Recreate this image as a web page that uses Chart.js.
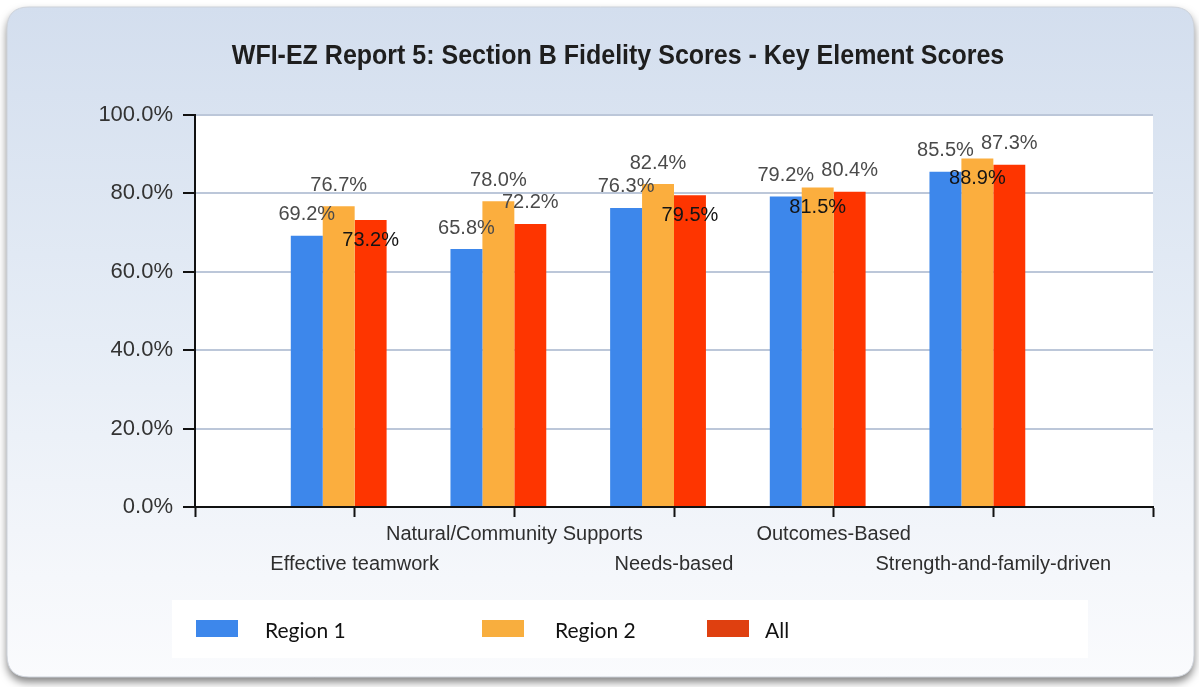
<!DOCTYPE html>
<html lang="en">
<head>
<meta charset="utf-8">
<title>WFI-EZ Report 5: Section B Fidelity Scores - Key Element Scores</title>
<script src="https://cdn.jsdelivr.net/npm/chart.js@4.4.1/dist/chart.umd.min.js"></script>
<style>
  html, body { margin: 0; padding: 0; background: #ffffff; }
  .chart-wrap { width: 1199px; height: 687px; }
</style>
</head>
<body>
<div class="chart-wrap"><canvas id="fidelity-chart" width="1199" height="687"></canvas></div>
<script>
const chartTitle = 'WFI-EZ Report 5: Section B Fidelity Scores - Key Element Scores';
const categories = [
  'Effective teamwork',
  'Natural/Community Supports',
  'Needs-based',
  'Outcomes-Based',
  'Strength-and-family-driven',
];
const seriesNames = ['Region 1', 'Region 2', 'All'];
const region1 = [69.2, 65.8, 76.3, 79.2, 85.5];
const region2 = [76.7, 78.0, 82.4, 81.5, 88.9];
const allRegions = [73.2, 72.2, 79.5, 80.4, 87.3];
const yTicks = [0, 20, 40, 60, 80, 100];

const barColors = ['#3d87eb', '#fbae3e', '#fe3500'];
const legendColors = ['#3d87eb', '#f8ae3e', '#df4010'];
const fontFamily = '"Liberation Sans", Arial, sans-serif';

// labels alternate between two rows, with an empty slot at each end of the axis
const axisLabels = [''].concat(
  categories.map((name, i) => (i % 2 === 0 ? ['', name] : [name, ''])),
  ['']
);
const padSeries = (values) => [null].concat(values, [null]);

const roundRect = (ctx, x, y, w, h, r) => {
  ctx.beginPath();
  ctx.moveTo(x + r, y);
  ctx.lineTo(x + w - r, y);
  ctx.quadraticCurveTo(x + w, y, x + w, y + r);
  ctx.lineTo(x + w, y + h - r);
  ctx.quadraticCurveTo(x + w, y + h, x + w - r, y + h);
  ctx.lineTo(x + r, y + h);
  ctx.quadraticCurveTo(x, y + h, x, y + h - r);
  ctx.lineTo(x, y + r);
  ctx.quadraticCurveTo(x, y, x + r, y);
  ctx.closePath();
};

const panelPlugin = {
  id: 'panel',
  beforeDraw(chart) {
    const { ctx, chartArea } = chart;
    ctx.save();

    // outer panel with drop shadow
    ctx.shadowColor = 'rgba(0, 0, 0, 0.5)';
    ctx.shadowBlur = 8;
    ctx.shadowOffsetY = 5;
    const grad = ctx.createLinearGradient(0, 6, 0, 678);
    grad.addColorStop(0, '#d3deee');
    grad.addColorStop(0.5, '#e6edf6');
    grad.addColorStop(0.85, '#f5f7fb');
    grad.addColorStop(1, '#fafbfd');
    ctx.fillStyle = grad;
    roundRect(ctx, 7, 7, 1187, 670, 22);
    ctx.fill();
    ctx.shadowColor = 'transparent';
    ctx.strokeStyle = '#cdd2da';
    ctx.lineWidth = 1;
    ctx.stroke();

    // title, drawn a little taller than wide like the original
    ctx.save();
    ctx.translate(618, 56);
    ctx.scale(1, 1.12);
    ctx.fillStyle = '#1e1e1e';
    ctx.font = 'bold 25px ' + fontFamily;
    ctx.textAlign = 'center';
    ctx.textBaseline = 'middle';
    ctx.fillText(chartTitle, 0, 0, 790);
    ctx.restore();

    // plot background
    ctx.fillStyle = '#ffffff';
    ctx.fillRect(chartArea.left, chartArea.top, chartArea.right - chartArea.left, chartArea.bottom - chartArea.top);

    // legend strip
    ctx.fillStyle = '#ffffff';
    ctx.fillRect(172, 600, 916, 58);
    ctx.restore();
  },
  afterDraw(chart) {
    const { ctx } = chart;
    const slots = [
      { swatch: 196, text: 265 },
      { swatch: 482, text: 555 },
      { swatch: 707, text: 765 },
    ];
    ctx.save();
    ctx.font = '21px Lato, "Open Sans", sans-serif';
    ctx.textBaseline = 'middle';
    ctx.textAlign = 'left';
    seriesNames.forEach((name, i) => {
      ctx.fillStyle = legendColors[i];
      ctx.fillRect(slots[i].swatch, 620, 42, 17);
      ctx.fillStyle = '#111111';
      ctx.fillText(name, slots[i].text, 631);
    });
    ctx.restore();
  },
};

// value labels sit above each bar; one that would collide with a neighbour goes inside its bar
const valueLabelPlugin = {
  id: 'valueLabels',
  afterDatasetsDraw(chart) {
    const { ctx } = chart;
    ctx.save();
    ctx.font = '20px ' + fontFamily;
    ctx.textAlign = 'center';
    ctx.textBaseline = 'middle';
    const textHeight = 16;

    chart.data.labels.forEach((_, i) => {
      const placed = [];
      chart.data.datasets.forEach((ds, d) => {
        const value = ds.data[i];
        if (value === null || value === undefined) return;
        const bar = chart.getDatasetMeta(d).data[i];
        const text = value.toFixed(1) + '%';
        const w = ctx.measureText(text).width;
        let y = bar.y - 21;
        const box = { l: bar.x - w / 2, r: bar.x + w / 2, t: y - textHeight / 2, b: y + textHeight / 2 };
        const hit = placed.some((p) => box.l < p.r && box.r > p.l && box.t < p.b && box.b > p.t);
        if (hit) {
          y = bar.y + 20;
          ctx.fillStyle = '#141414';
        } else {
          placed.push(box);
          ctx.fillStyle = '#4a4a4a';
        }
        ctx.fillText(text, bar.x, y);
      });
    });
    ctx.restore();
  },
};

const canvas = document.querySelector('#fidelity-chart');

new Chart(canvas, {
  type: 'bar',
  data: {
    labels: axisLabels,
    datasets: [
      { label: seriesNames[0], data: padSeries(region1), backgroundColor: barColors[0] },
      { label: seriesNames[1], data: padSeries(region2), backgroundColor: barColors[1] },
      { label: seriesNames[2], data: padSeries(allRegions), backgroundColor: barColors[2] },
      // empty fourth slot keeps the group offset to the left of each tick
      { label: '', data: [], backgroundColor: 'transparent' },
    ],
  },
  options: {
    responsive: false,
    devicePixelRatio: 1,
    animation: false,
    layout: { padding: { left: 20, right: 46, top: 115, bottom: 100 } },
    datasets: {
      bar: { categoryPercentage: 0.8, barPercentage: 1.0 },
    },
    plugins: {
      legend: { display: false },
      title: { display: false },
      tooltip: { enabled: false },
    },
    scales: {
      x: {
        offset: false,
        afterFit: (scale) => { scale.height = 80; },
        grid: {
          offset: false,
          drawOnChartArea: false,
          drawTicks: true,
          tickLength: 10,
          tickColor: '#111111',
          tickWidth: 2,
        },
        border: { display: true, color: '#111111', width: 2 },
        ticks: {
          autoSkip: false,
          maxRotation: 0,
          minRotation: 0,
          padding: 2,
          color: '#2e2e2e',
          font: { family: fontFamily, size: 20, lineHeight: 1.5 },
        },
      },
      y: {
        min: 0,
        max: 100,
        afterFit: (scale) => { scale.width = 175; },
        afterBuildTicks: (scale) => { scale.ticks = yTicks.map((v) => ({ value: v })); },
        grid: {
          color: '#bcc7d9',
          lineWidth: 2,
          drawTicks: true,
          tickLength: 12,
          tickColor: '#111111',
          tickWidth: 2,
        },
        border: { display: true, color: '#111111', width: 2 },
        ticks: {
          padding: 10,
          color: '#333333',
          font: { family: fontFamily, size: 22 },
          callback: (value) => Number(value).toFixed(1) + '%',
        },
      },
    },
  },
  plugins: [panelPlugin, valueLabelPlugin],
});
</script>
</body>
</html>
